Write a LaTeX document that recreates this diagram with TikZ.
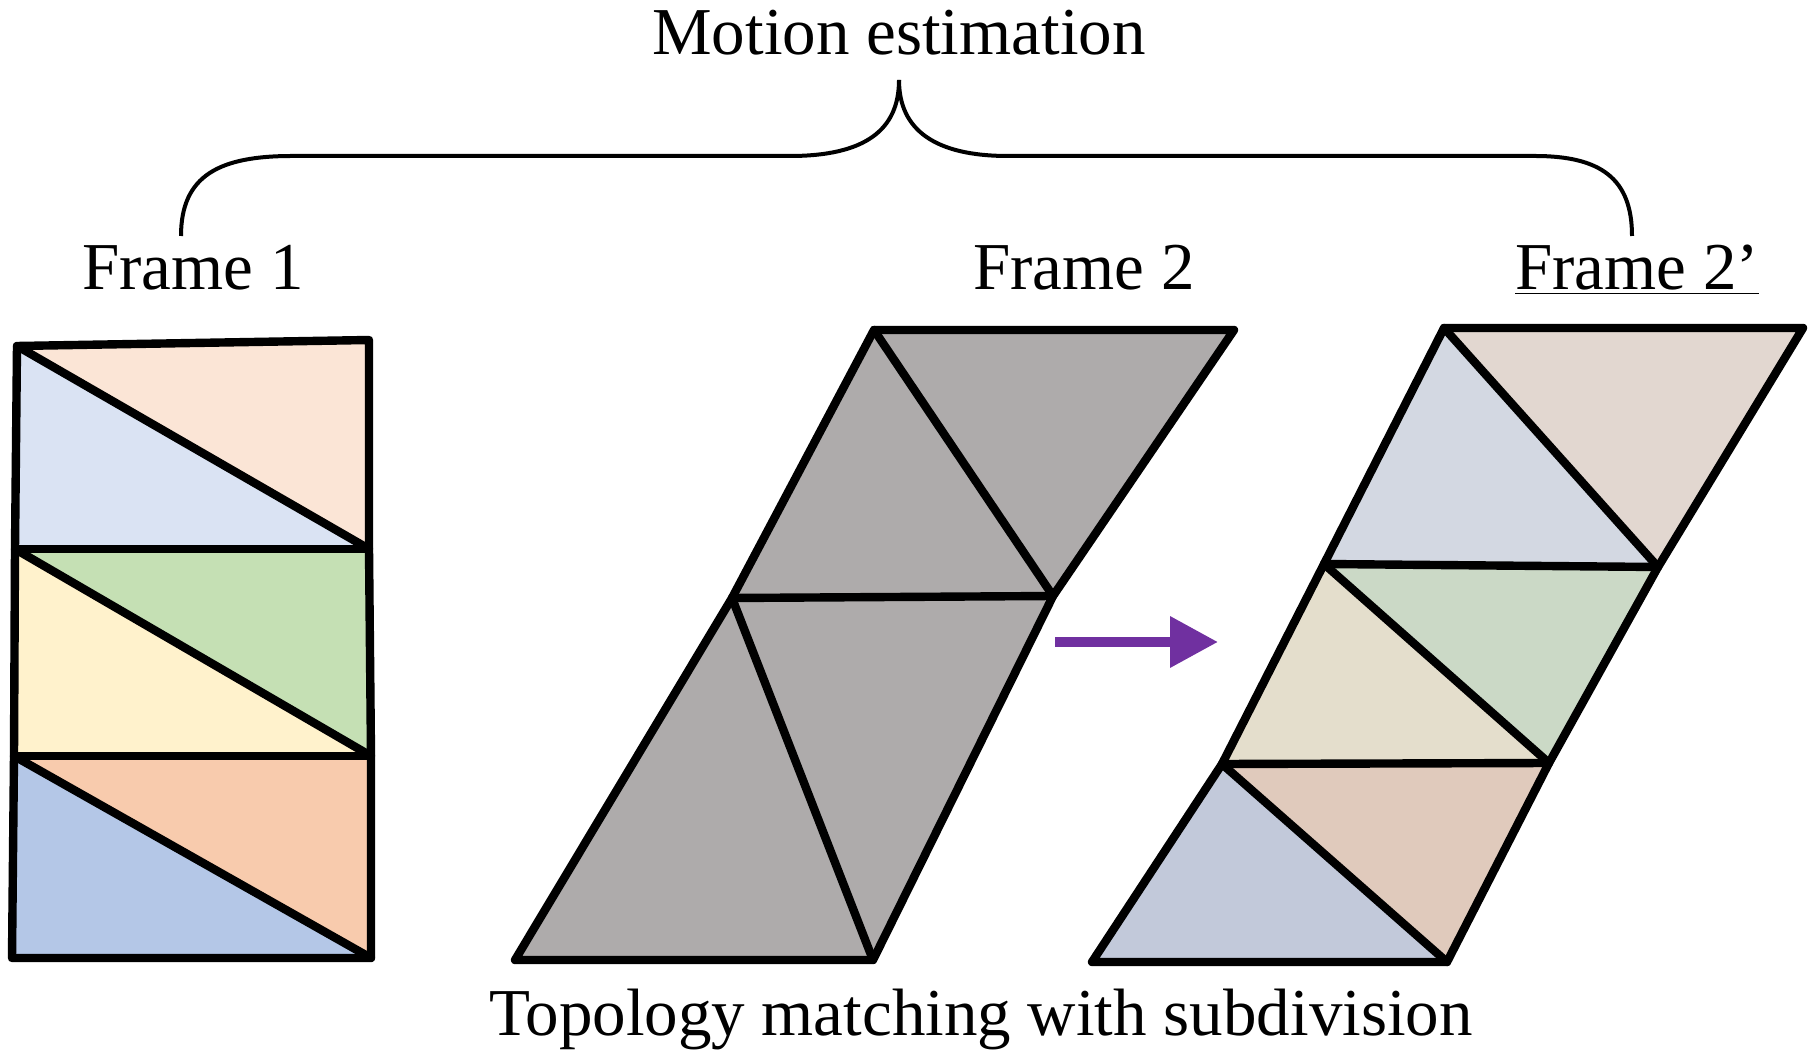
\documentclass[tikz,border=0pt]{standalone}
\usepackage{fontspec}
\setmainfont{Liberation Serif}
\usetikzlibrary{arrows.meta}
\definecolor{pA}{HTML}{FBE5D6}
\definecolor{bA}{HTML}{DAE3F3}
\definecolor{gA}{HTML}{C5E0B4}
\definecolor{yA}{HTML}{FFF2CC}
\definecolor{oA}{HTML}{F8CBAD}
\definecolor{bB}{HTML}{B4C7E7}
\definecolor{grayF}{HTML}{AEABAB}
\definecolor{cTR}{HTML}{E2D7D0}
\definecolor{cTL}{HTML}{D3D8E2}
\definecolor{cMR}{HTML}{CBD9C6}
\definecolor{cML}{HTML}{E4DECC}
\definecolor{cBR}{HTML}{E0CABC}
\definecolor{cBL}{HTML}{C2C9DA}
\definecolor{purp}{HTML}{7030A0}
\tikzset{
  meshline/.style={line width=4.2pt, line cap=round, line join=round, black},
  lbl/.style={anchor=base, inner sep=0pt, font=\fontsize{33.5pt}{38pt}\selectfont},
  bracel/.style={line width=2pt, black},
}
\begin{document}
\begin{tikzpicture}[x=0.5pt,y=-0.5pt]
\useasboundingbox (0,0) rectangle (1808,1052);
% ---------- Frame 1 ----------
\coordinate (A1) at (17,346);
\coordinate (A2) at (369,340);
\coordinate (B1) at (15,549);
\coordinate (B2) at (369,549);
\coordinate (C1) at (14,756);
\coordinate (C2) at (371,756);
\coordinate (D1) at (12,958);
\coordinate (D2) at (371,958);
\fill[pA] (A1) -- (A2) -- (B2) -- cycle;
\fill[bA] (A1) -- (B2) -- (B1) -- cycle;
\fill[gA] (B1) -- (B2) -- (C2) -- cycle;
\fill[yA] (B1) -- (C2) -- (C1) -- cycle;
\fill[oA] (C1) -- (C2) -- (D2) -- cycle;
\fill[bB] (C1) -- (D2) -- (D1) -- cycle;
\draw[meshline] (A1) -- (A2) -- (B2) -- (C2) -- (D2) -- (D1) -- (C1) -- (B1) -- cycle;
\draw[meshline] (B1) -- (B2);
\draw[meshline] (C1) -- (C2);
\draw[meshline] (A1) -- (B2);
\draw[meshline] (B1) -- (C2);
\draw[meshline] (C1) -- (D2);
% ---------- Frame 2 ----------
\coordinate (P1) at (874,330);
\coordinate (P2) at (1234,330);
\coordinate (P3) at (732,598);
\coordinate (P4) at (1053,596);
\coordinate (P5) at (515,960);
\coordinate (P6) at (873,960);
\fill[grayF] (P1) -- (P2) -- (P4) -- (P6) -- (P5) -- (P3) -- cycle;
\draw[meshline] (P1) -- (P2) -- (P4) -- (P6) -- (P5) -- (P3) -- cycle;
\draw[meshline] (P3) -- (P4);
\draw[meshline] (P1) -- (P4);
\draw[meshline] (P3) -- (P6);
% ---------- arrow ----------
\coordinate (arrS) at (1055,642);
\coordinate (arrE) at (1218,642);
\draw[purp, line width=5pt, -{Triangle[length=24pt,width=24.5pt]}] (arrS) -- (arrE);
% ---------- Frame 2' ----------
\coordinate (Q1) at (1444,328);
\coordinate (Q2) at (1803,328);
\coordinate (Q3) at (1324,564);
\coordinate (Q4) at (1658,567);
\coordinate (Q5) at (1222,764);
\coordinate (Q6) at (1549,763);
\coordinate (Q7) at (1092,962);
\coordinate (Q8) at (1447,962);
\fill[cTR] (Q1) -- (Q2) -- (Q4) -- cycle;
\fill[cTL] (Q1) -- (Q4) -- (Q3) -- cycle;
\fill[cMR] (Q3) -- (Q4) -- (Q6) -- cycle;
\fill[cML] (Q3) -- (Q6) -- (Q5) -- cycle;
\fill[cBR] (Q5) -- (Q6) -- (Q8) -- cycle;
\fill[cBL] (Q5) -- (Q8) -- (Q7) -- cycle;
\draw[meshline] (Q1) -- (Q2) -- (Q4) -- (Q6) -- (Q8) -- (Q7) -- (Q5) -- (Q3) -- cycle;
\draw[meshline] (Q3) -- (Q4);
\draw[meshline] (Q5) -- (Q6);
\draw[meshline] (Q1) -- (Q4);
\draw[meshline] (Q3) -- (Q6);
\draw[meshline] (Q5) -- (Q8);
% ---------- labels ----------
\node[lbl] (motion) at (899,55) {Motion estimation};
\node[lbl] (f1) at (193,290) {Frame 1};
\node[lbl] (f2) at (1084,290) {Frame 2};
\node[lbl] (f2p) at (1637,290) {\underline{Frame 2’}};
\node[lbl] (topo) at (981,1035) {Topology matching with subdivision};
% ---------- brace ----------
\coordinate (brL) at (181,236);
\coordinate (brT) at (899,80);
\coordinate (brR) at (1632,236);
\draw[bracel] (brL) .. controls (181,175) and (220,156) .. (292,156)
  -- (790,156) .. controls (865,156) and (899,130) .. (brT);
\draw[bracel] (brT) .. controls (899,130) and (935,156) .. (1008,156)
  -- (1535,156) .. controls (1600,156) and (1632,178) .. (brR);
\end{tikzpicture}
\end{document}
